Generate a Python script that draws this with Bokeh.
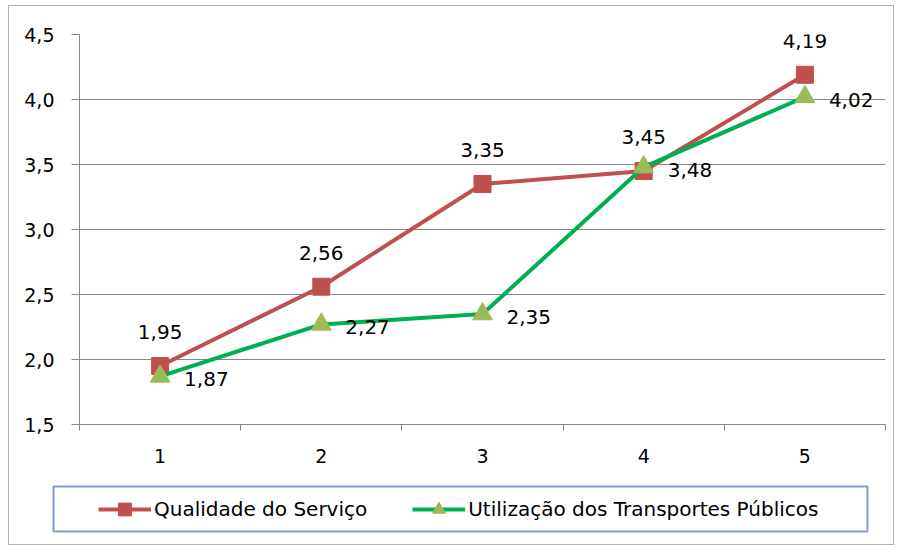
from bokeh.plotting import figure
from bokeh.layouts import column
from bokeh.models import (FixedTicker, Legend, LegendItem, ColumnDataSource, LabelSet)
from bokeh.core.properties import value
from bokeh.embed import file_html
from bokeh.resources import INLINE

categories = [1, 2, 3, 4, 5]
qualidade = [1.95, 2.56, 3.35, 3.45, 4.19]
utilizacao = [1.87, 2.27, 2.35, 3.48, 4.02]
y_ticks = [1.5, 2.0, 2.5, 3.0, 3.5, 4.0, 4.5]
series_names = ["Qualidade do Serviço", "Utilização dos Transportes Públicos"]

FONT = "DejaVu Sans"
RED = "#C0504D"
GREEN_LINE = "#00B050"
GREEN_MARK = "#9BBB59"
GRID = "#878787"


def fmt(v, nd):
    return f"{v:.{nd}f}".replace(".", ",")


src = ColumnDataSource(dict(
    x=categories, q=qualidade, u=utilizacao,
    ql=[fmt(v, 2) for v in qualidade], ul=[fmt(v, 2) for v in utilizacao]))

# ---------------- main chart ----------------
W, H = 884, 470
p = figure(width=W, height=H, x_range=(0.5, 5.5), y_range=(1.5, 4.5),
           output_backend="svg", toolbar_location=None,
           min_border_left=70, min_border_right=8,
           min_border_top=28, min_border_bottom=52)
p.frame_align = False
p.outline_line_color = None
p.background_fill_color = "white"
p.border_fill_color = "white"

p.xaxis.ticker = FixedTicker(ticks=categories,
                             minor_ticks=[c - 0.5 for c in categories] + [categories[-1] + 0.5])
p.xaxis.major_tick_line_color = None
p.xaxis.major_tick_out = 0
p.xaxis.major_tick_in = 0
p.xaxis.minor_tick_out = 6
p.xaxis.minor_tick_in = 0
p.xaxis.minor_tick_line_color = GRID
p.xaxis.axis_line_color = GRID
p.xaxis.major_label_standoff = 18
p.xgrid.grid_line_color = None

p.yaxis.ticker = FixedTicker(ticks=y_ticks, minor_ticks=[])
p.yaxis.major_label_overrides = {t: fmt(t, 1) for t in y_ticks}
p.yaxis.major_tick_out = 8
p.yaxis.major_tick_in = 0
p.yaxis.major_tick_line_color = GRID
p.yaxis.axis_line_color = GRID
p.yaxis.major_label_standoff = 17
p.ygrid.grid_line_color = GRID
p.ygrid.ticker = FixedTicker(ticks=y_ticks)

for ax in (p.xaxis, p.yaxis):
    ax.major_label_text_font = FONT
    ax.major_label_text_font_size = "19px"
    ax.major_label_text_color = "#000000"

l1 = p.line("x", "q", source=src, line_color=RED, line_width=4)
m1 = p.scatter("x", "q", source=src, marker="square", size=17,
               fill_color=RED, line_color=RED)
l2 = p.line("x", "u", source=src, line_color=GREEN_LINE, line_width=4)
m2 = p.scatter("x", "u", source=src, marker="triangle", size=20,
               fill_color=GREEN_MARK, line_color=GREEN_MARK)

lab1 = LabelSet(x="x", y="q", text="ql", source=src, text_align="center",
                text_baseline="middle", y_offset=34, text_font=value(FONT),
                text_font_size=value("20px"), text_color="#000000")
lab2 = LabelSet(x="x", y="u", text="ul", source=src, text_align="left",
                text_baseline="middle", x_offset=24, y_offset=-3, text_font=value(FONT),
                text_font_size=value("20px"), text_color="#000000")
p.add_layout(lab1)
p.add_layout(lab2)

# ---------------- legend box ----------------
lg = figure(width=W, height=68, x_range=(100, 101), y_range=(100, 101),
            output_backend="svg", toolbar_location=None,
            x_axis_type=None, y_axis_type=None,
            min_border_left=44, min_border_right=26, min_border_top=10, min_border_bottom=13)
lg.frame_align = False
lg.grid.grid_line_color = None
lg.outline_line_color = "#7F9FCF"
lg.outline_line_width = 2
lg.background_fill_color = "white"
lg.border_fill_color = "white"

gl1 = lg.line("x", "q", source=src, line_color=RED, line_width=4)
gm1 = lg.scatter("x", "q", source=src, marker="square", size=17,
                 fill_color=RED, line_color=RED)
gl2 = lg.line("x", "u", source=src, line_color=GREEN_LINE, line_width=4)
gm2 = lg.scatter("x", "u", source=src, marker="triangle", size=20,
                 fill_color=GREEN_MARK, line_color=GREEN_MARK)

legend = Legend(items=[LegendItem(label=series_names[0], renderers=[gl1, gm1]),
                       LegendItem(label=series_names[1], renderers=[gl2, gm2])],
                orientation="horizontal", location=(45, 6),
                padding=0, margin=0, spacing=45, glyph_width=53, glyph_height=32,
                label_standoff=3, label_text_font=FONT,
                label_text_font_size="20px", label_text_color="#000000",
                border_line_color=None, background_fill_alpha=0)
lg.add_layout(legend)

page = column(p, lg, spacing=0)
page.margin = (5, 0, 0, 8)
page.styles = {"border": "1px solid #B4B4B4", "background-color": "white"}

open("out.html", "w").write(file_html(page, INLINE))
